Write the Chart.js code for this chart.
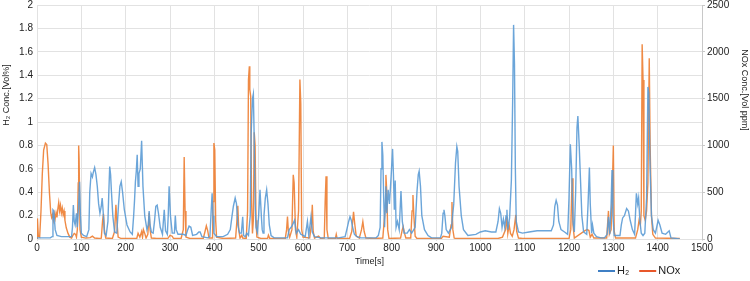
<!DOCTYPE html>
<html>
<head>
<meta charset="utf-8">
<script src="https://cdn.jsdelivr.net/npm/chart.js@4.4.1/dist/chart.umd.min.js"></script>
<style>
  html, body { margin: 0; padding: 0; background: #fff; }
  #wrap { width: 750px; height: 281px; }
</style>
</head>
<body>
<div id="wrap"><canvas id="chart"></canvas></div>
<script>
// H2 readings (time in s, conc in Vol%)
const h2Times = [0,30,34,36,38,41,45,55,70,78,80,82,84,86,89,91,94,96,98,100,105,112,117,119,122,125,127,130,133,136,139,142,145,147,149,152,156,160,162,164,166,168,171,175,180,184,187,190,193,197,203,210,215,218,220,222,224,226,228,230,233,236,239,243,248,251,253,255,258,262,265,268,271,274,278,283,285,287,290,294,296,298,301,305,310,312,314,318,330,336,340,343,347,351,360,365,368,372,385,390,393,395,397,399,405,420,430,436,440,443,447,450,453,457,461,464,466,470,473,477,481,483,486,488,490,492,494,497,500,503,506,508,510,512,515,518,521,524,528,535,565,569,575,581,585,590,595,600,605,610,613,618,621,626,640,680,695,700,703,706,709,712,716,722,730,765,770,774,776,778,780,782,784,787,789,792,795,799,802,804,806,808,810,813,817,821,824,828,835,840,845,853,857,860,862,865,868,874,882,890,910,913,916,918,920,923,928,935,940,944,947,949,952,957,962,972,990,1000,1011,1025,1035,1040,1043,1046,1049,1052,1055,1058,1060,1062,1066,1070,1073,1075,1077,1079,1081,1086,1095,1110,1128,1160,1165,1168,1171,1174,1177,1182,1190,1197,1200,1203,1206,1209,1212,1215,1218,1220,1223,1226,1229,1233,1240,1243,1246,1248,1251,1253,1256,1262,1272,1280,1286,1289,1292,1295,1297,1299,1302,1315,1318,1321,1325,1330,1334,1338,1343,1348,1352,1355,1357,1360,1363,1367,1371,1375,1378,1380,1383,1386,1390,1395,1401,1405,1410,1418,1426,1430,1450];
const h2Values = [0.01,0.01,0.02,0.25,0.24,0.08,0.03,0.02,0.02,0.02,0.1,0.29,0.15,0.12,0.22,0.1,0.3,0.49,0.2,0.05,0.03,0.02,0.08,0.4,0.56,0.53,0.57,0.61,0.55,0.45,0.3,0.22,0.28,0.35,0.25,0.05,0.03,0.15,0.4,0.62,0.55,0.4,0.2,0.06,0.05,0.3,0.45,0.49,0.4,0.25,0.12,0.06,0.04,0.2,0.33,0.49,0.58,0.72,0.45,0.56,0.6,0.84,0.45,0.2,0.08,0.12,0.24,0.12,0.06,0.05,0.15,0.28,0.29,0.22,0.1,0.04,0.15,0.25,0.07,0.04,0.2,0.45,0.2,0.05,0.05,0.2,0.08,0.04,0.04,0.03,0.08,0.11,0.1,0.03,0.04,0.06,0.06,0.02,0.01,0.02,0.25,0.39,0.2,0.05,0.02,0.02,0.04,0.08,0.2,0.28,0.35,0.3,0.12,0.05,0.05,0.19,0.03,0.02,0.05,0.03,0.2,0.9,1.2,1.24,0.85,0.3,0.1,0.06,0.2,0.42,0.2,0.08,0.05,0.2,0.35,0.42,0.3,0.12,0.03,0.01,0.01,0.08,0.11,0.16,0.05,0.08,0.04,0.03,0.02,0.15,0.03,0.19,0.06,0.02,0.01,0.01,0.02,0.1,0.15,0.19,0.16,0.1,0.04,0.02,0.01,0.01,0.03,0.1,0.6,0.83,0.72,0.35,0.1,0.45,0.22,0.42,0.3,0.55,0.77,0.55,0.25,0.5,0.1,0.15,0.08,0.41,0.15,0.05,0.05,0.08,0.05,0.1,0.4,0.55,0.58,0.45,0.2,0.08,0.03,0.01,0.01,0.05,0.22,0.25,0.2,0.08,0.05,0.1,0.3,0.65,0.79,0.75,0.45,0.2,0.08,0.03,0.04,0.06,0.07,0.06,0.06,0.15,0.26,0.22,0.1,0.17,0.1,0.2,0.25,0.08,0.18,0.5,1.2,1.83,1.5,0.6,0.15,0.06,0.05,0.06,0.07,0.07,0.12,0.28,0.33,0.29,0.15,0.08,0.06,0.04,0.35,0.81,0.6,0.15,0.06,0.4,0.95,1.05,0.8,0.5,0.2,0.06,0.04,0.3,0.61,0.3,0.05,0.12,0.05,0.02,0.01,0.01,0.04,0.19,0.04,0.3,0.59,0.2,0.03,0.03,0.12,0.18,0.2,0.26,0.24,0.16,0.08,0.04,0.39,0.3,0.35,0.15,0.05,0.03,0.05,0.35,1.3,1.25,0.6,0.2,0.08,0.05,0.16,0.12,0.05,0.04,0.07,0.01,0];

// NOx readings (time in s, conc in Vol ppm)
const noxTimes = [0,1,3,6,9,12,15,19,22,25,28,31,33,35,37,39,41,43,45,47,49,51,53,55,57,59,61,63,66,70,74,78,81,84,87,89,91,93,94,95,97,100,110,120,125,130,140,145,148,150,152,155,170,175,178,180,183,190,225,228,232,236,238,240,243,246,250,253,255,258,270,295,300,305,308,325,330,332,334,336,345,375,379,382,385,388,396,397,399,401,403,405,420,448,451,453,455,458,462,464,472,475,477,479,480,482,484,486,488,490,492,494,496,505,520,522,525,560,563,565,567,570,575,578,580,583,586,590,593,595,597,600,615,619,621,623,626,635,640,648,650,652,654,657,673,675,677,705,710,714,717,720,727,732,735,738,742,760,780,785,787,789,791,794,820,824,826,829,832,843,846,848,850,853,857,912,916,930,934,936,938,941,945,1040,1050,1057,1060,1062,1065,1068,1072,1076,1080,1082,1086,1095,1200,1204,1207,1209,1212,1236,1241,1245,1248,1252,1256,1285,1289,1291,1295,1298,1300,1302,1305,1350,1355,1358,1361,1363,1365,1367,1369,1372,1375,1378,1381,1383,1386,1389,1395,1450];
const noxValues = [0,220,30,20,300,700,950,1025,1010,800,500,280,230,260,200,270,220,280,230,320,390,300,360,280,330,260,300,200,120,60,20,10,40,60,50,20,100,600,1000,850,100,20,10,15,30,10,5,10,200,270,100,10,5,80,365,200,20,5,5,60,20,80,20,100,60,10,50,280,100,10,5,5,40,30,5,5,100,875,300,20,5,5,80,140,90,10,10,400,1025,950,200,20,5,10,200,355,100,10,40,10,5,300,1700,1846,1600,1525,400,60,200,1140,1000,200,20,5,5,40,5,5,100,240,80,20,100,685,600,100,20,300,1705,1450,100,20,10,150,365,80,10,30,5,10,400,670,100,5,5,50,5,5,80,290,150,30,10,100,185,80,10,5,10,300,685,500,100,5,10,100,130,60,10,10,300,470,250,30,5,5,30,20,150,395,100,10,5,5,20,100,240,60,150,60,30,100,257,80,10,5,5,100,650,150,10,90,100,90,20,50,10,10,300,50,100,600,1000,80,10,10,100,200,150,300,2080,1700,250,200,300,600,1930,1000,250,50,10,5];

const xTicks = { min: 0, max: 1500, step: 100 };

const BLUE = 'rgba(91,155,213,0.9)';
const ORANGE = 'rgba(237,125,49,0.9)';
const TXT = '#222';
const GRID = '#e2e2e2';
const FONT = "'Liberation Sans', Arial, sans-serif";

// pair up times and values for a linear x axis
const toPoints = (ts, vs) => ts.map((t, i) => ({ x: t, y: vs[i] }));
// plain numbers, no thousands separator
const plain = (v) => String(Math.round(v * 10) / 10);

// small legend in the bottom right corner, overlapping the x title band
const cornerLegend = {
  id: 'cornerLegend',
  afterDraw(chart) {
    const c = chart.ctx;
    const y = chart.height - 10;
    let x = chart.width - 152;
    c.save();
    c.font = `11px ${FONT}`;
    c.textBaseline = 'middle';
    chart.data.datasets.forEach((ds) => {
      c.fillStyle = ds.legendColor;
      c.fillRect(x, y - 1, 17, 2);
      x += 19;
      c.fillStyle = TXT;
      c.fillText(ds.label, x, y);
      x += c.measureText(ds.label).width + 10;
    });
    c.restore();
  }
};

// vertical axis titles sit above the middle of the plot in the original
const sideTitles = {
  id: 'sideTitles',
  afterDraw(chart, args, opts) {
    const c = chart.ctx;
    c.save();
    c.font = `9px ${FONT}`;
    c.fillStyle = TXT;
    c.textAlign = 'center';
    c.textBaseline = 'middle';
    opts.items.forEach((it) => {
      c.save();
      c.translate(it.x, it.y);
      c.rotate(it.rot);
      c.fillText(it.text, 0, 0);
      c.restore();
    });
    c.restore();
  }
};

const ctx = document.getElementById('chart').getContext('2d');

const chart = new Chart(ctx, {
  type: 'line',
  data: {
    datasets: [{
      label: 'H\u2082',
      data: toPoints(h2Times, h2Values),
      yAxisID: 'y',
      borderColor: BLUE,
      legendColor: '#3f7fc4',
      borderWidth: 1.4,
      pointRadius: 0,
      tension: 0
    }, {
      label: 'NOx',
      data: toPoints(noxTimes, noxValues),
      yAxisID: 'y1',
      borderColor: ORANGE,
      legendColor: '#e8572a',
      borderWidth: 1.4,
      pointRadius: 0,
      tension: 0
    }]
  },
  options: {
    responsive: true,
    maintainAspectRatio: false,
    animation: false,
    layout: { padding: { top: 5, left: 0, right: 0, bottom: 0 } },
    scales: {
      x: {
        type: 'linear',
        min: xTicks.min,
        max: xTicks.max,
        ticks: {
          stepSize: xTicks.step,
          color: TXT,
          font: { family: FONT, size: 10 },
          padding: 1,
          maxRotation: 0,
          callback: plain
        },
        grid: { color: GRID, tickLength: 2 },
        border: { display: false },
        title: {
          display: true,
          text: 'Time[s]',
          color: TXT,
          font: { family: FONT, size: 9 },
          padding: { top: 3, bottom: 14 }
        },
        afterFit: (s) => { s.height = 42; }
      },
      y: {
        position: 'left',
        min: 0,
        max: 2,
        ticks: {
          stepSize: 0.2,
          color: TXT,
          font: { family: FONT, size: 10 },
          padding: 4,
          callback: plain
        },
        grid: { color: GRID, tickLength: 0 },
        border: { display: false },
        afterFit: (s) => { s.width = 37; s.paddingTop = 0; }
      },
      y1: {
        position: 'right',
        min: 0,
        max: 2500,
        ticks: {
          stepSize: 500,
          color: TXT,
          font: { family: FONT, size: 10 },
          padding: 2,
          callback: plain
        },
        grid: { drawOnChartArea: false, color: '#c8c8c8', tickLength: 3 },
        border: { display: true, color: '#c8c8c8' },
        afterFit: (s) => { s.width = 48; s.paddingTop = 0; }
      }
    },
    plugins: {
      legend: { display: false },
      tooltip: { enabled: false },
      sideTitles: {
        items: [
          { text: 'H\u2082 Conc.[Vol%]', x: 7, y: 95, rot: -Math.PI / 2 },
          { text: 'NOx Conc.[Vol ppm]', x: 744, y: 90, rot: Math.PI / 2 }
        ]
      }
    }
  },
  plugins: [cornerLegend, sideTitles]
});
</script>
</body>
</html>
